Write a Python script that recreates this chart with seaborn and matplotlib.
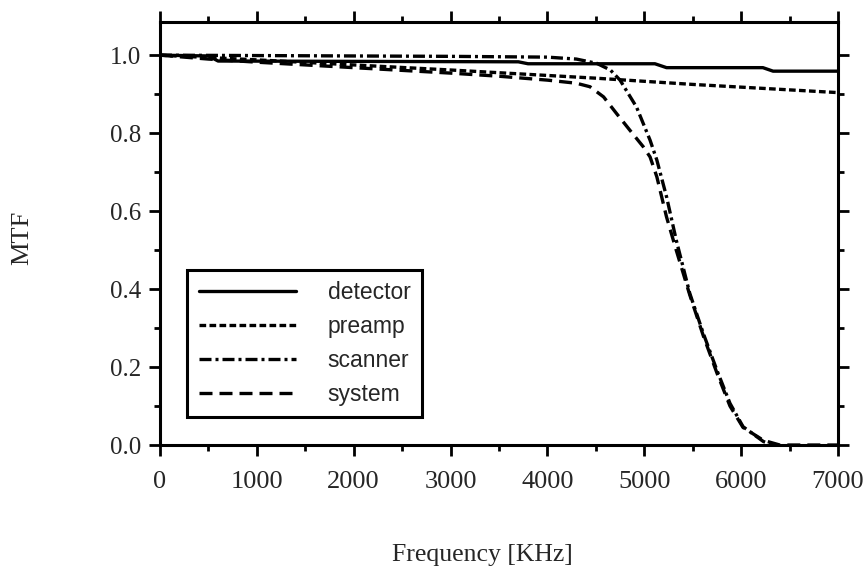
import matplotlib
matplotlib.use("Agg")
import matplotlib.pyplot as plt
import seaborn as sns
import pandas as pd

# ---- data ----
freq_detector = [0, 500, 600, 3700, 3800, 5110, 5230, 6225, 6330, 7000]
mtf_detector = [1.0, 0.998, 0.985, 0.983, 0.978, 0.978, 0.968, 0.968, 0.959, 0.959]

freq_preamp = [0, 1000, 2000, 3000, 4000, 4500, 5000, 5500, 6000, 6500, 7000]
mtf_preamp = [1.0, 0.988, 0.975, 0.962, 0.948, 0.941, 0.933, 0.925, 0.918, 0.911, 0.904]

freq_scanner = [0, 1000, 2000, 3000, 4000, 4300, 4510, 4650, 4750, 4920, 5060, 5130,
                5230, 5330, 5470, 5610, 5750, 5885, 6020, 6230, 6330]
mtf_scanner = [1.0, 0.999, 0.998, 0.997, 0.995, 0.99, 0.979, 0.962, 0.936, 0.867, 0.782, 0.731,
               0.637, 0.526, 0.389, 0.286, 0.192, 0.107, 0.047, 0.009, 0.0]

freq_system = [0, 500, 1000, 1500, 2000, 2500, 3000, 3500, 4000, 4300, 4440, 4580, 4715, 4850,
               4990, 5060, 5130, 5230, 5330, 5470, 5610, 5750, 5885, 6020, 6230, 6400, 6500, 7000]
mtf_system = [1.0, 0.99, 0.982, 0.975, 0.968, 0.961, 0.954, 0.946, 0.936, 0.928, 0.919, 0.893,
              0.850, 0.808, 0.765, 0.739, 0.688, 0.585, 0.50, 0.385, 0.28, 0.185, 0.10, 0.045,
              0.012, 0.0, 0.0, 0.0]

series_names = ["detector", "preamp", "scanner", "system"]
x_ticks = [0, 1000, 2000, 3000, 4000, 5000, 6000, 7000]
y_ticks = [0.0, 0.2, 0.4, 0.6, 0.8, 1.0]

frames = []
for name, fx, fy in zip(series_names,
                        [freq_detector, freq_preamp, freq_scanner, freq_system],
                        [mtf_detector, mtf_preamp, mtf_scanner, mtf_system]):
    frames.append(pd.DataFrame({"Frequency": fx, "MTF": fy, "series": name}))
df = pd.concat(frames, ignore_index=True)

sns.set_style("white")
plt.rcParams["font.family"] = ["Liberation Serif", "DejaVu Serif"]

fig = plt.figure(figsize=(8.68, 5.74), dpi=100)
ax = fig.add_axes([0.1843, 0.2247, 0.7811, 0.7369])

dash_map = {
    "detector": "",
    "preamp": (2.0, 1.0),
    "scanner": (3.6, 1.2, 0.9, 1.2),
    "system": (3.9, 2.1),
}
sns.lineplot(data=df, x="Frequency", y="MTF", style="series", dashes=dash_map,
             style_order=series_names, color="black", linewidth=2.4,
             estimator=None, sort=False, ax=ax, legend=True)

ax.set_xlim(0, 7000)
ax.set_ylim(0, 1.085)
ax.set_xticks(x_ticks)
ax.set_xticklabels([str(v) for v in x_ticks])
ax.set_yticks(y_ticks)
ax.set_yticklabels([f"{v:.1f}" for v in y_ticks])
ax.set_xticks([500 + 1000 * i for i in range(7)], minor=True)
ax.set_yticks([0.1, 0.3, 0.5, 0.7, 0.9], minor=True)

ax.tick_params(which="both", direction="out", top=True, right=True, bottom=True, left=True,
               width=2.0, color="black")
ax.tick_params(which="major", length=8)
ax.tick_params(which="minor", length=4.5)
ax.tick_params(axis="x", which="major", labelsize=19, pad=11)
ax.tick_params(axis="y", which="major", labelsize=18, pad=5.5)
for s in ax.spines.values():
    s.set_visible(True)
    s.set_color("black")
    s.set_linewidth(2.2)

ax.set_xlabel("Frequency [KHz]", fontsize=18.5)
ax.set_ylabel("MTF", fontsize=19)
ax.xaxis.set_label_coords(0.476, -0.261)
ax.xaxis.label.set_va("center")
ax.yaxis.set_label_coords(-0.2035, 0.49)
ax.yaxis.label.set_va("center")

handles, labels = ax.get_legend_handles_labels()
leg = ax.legend(handles, labels, loc="lower left", bbox_to_anchor=(0.04, 0.066),
                borderaxespad=0, frameon=True, fancybox=False, shadow=False,
                prop={"family": "Liberation Sans", "size": 16.5},
                handlelength=4.24, handletextpad=1.4, labelspacing=0.47, borderpad=0.5)
leg.get_frame().set_edgecolor("black")
leg.get_frame().set_linewidth(2.2)
leg.get_frame().set_alpha(1)

fig.savefig("out.png", dpi=100)
